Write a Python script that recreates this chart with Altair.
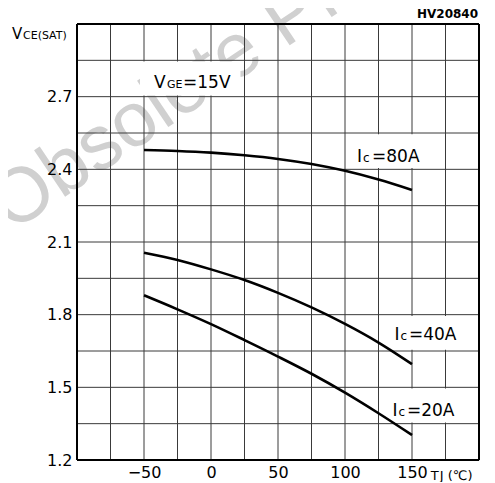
import altair as alt
import pandas as pd

# ---- data ----
T = [-50, -25, 0, 25, 50, 75, 100, 125, 150]
V80 = [2.480, 2.476, 2.469, 2.458, 2.443, 2.422, 2.394, 2.358, 2.315]
V40 = [2.056, 2.026, 1.987, 1.943, 1.890, 1.830, 1.762, 1.685, 1.596]
V20 = [1.880, 1.822, 1.761, 1.695, 1.627, 1.556, 1.478, 1.393, 1.303]
series = ["80A", "40A", "20A"]

x_ticks = [-50, 0, 50, 100, 150]
y_ticks = [1.2, 1.5, 1.8, 2.1, 2.4, 2.7]
x_grid = [-75, -50, -25, 0, 25, 50, 75, 100, 125, 150, 175]
y_grid = [1.35, 1.5, 1.65, 1.8, 1.95, 2.1, 2.25, 2.4, 2.55, 2.7, 2.85]
x_edges = [-100, 200]
y_edges = [1.2, 3.0]

FONT = "DejaVu Sans"

xs = alt.Scale(domain=[-100, 200], nice=False, zero=False)
ys = alt.Scale(domain=[1.2, 3.0], nice=False, zero=False)
x_axis = alt.Axis(values=x_ticks, title=None, grid=False, ticks=False, domain=False,
                  labelFontSize=16, labelFont=FONT, labelColor="black", labelPadding=4,
                  labelFlush=False, zindex=1)
y_axis = alt.Axis(values=y_ticks, format=".1f", title=None, grid=False, ticks=False,
                  domain=False, labelFontSize=16, labelFont=FONT, labelColor="black",
                  labelPadding=5, labelFlush=False, zindex=1)


def X(field):
    return alt.X(field, scale=xs, axis=x_axis)


def Y(field):
    return alt.Y(field, scale=ys, axis=y_axis)


curves = pd.DataFrame({
    "T": T * 3,
    "V": V80 + V40 + V20,
    "Ic": [series[0]] * len(T) + [series[1]] * len(T) + [series[2]] * len(T),
})

# watermark
wm = alt.Chart(pd.DataFrame({"T": [-149.0], "V": [2.137], "s": ["Obsolete Product(s)"]})).mark_text(
    align="left", baseline="alphabetic", angle=326, fontSize=77, font="Liberation Sans",
    color="#d0d0d0"
).encode(x=X("T:Q"), y=Y("V:Q"), text="s:N")

vgrid = alt.Chart(pd.DataFrame({"T": x_grid})).mark_rule(color="#3a3a3a", strokeWidth=1).encode(
    x=X("T:Q"))
hgrid = alt.Chart(pd.DataFrame({"V": y_grid})).mark_rule(color="#3a3a3a", strokeWidth=1).encode(
    y=Y("V:Q"))

boxes = pd.DataFrame({
    "T1": [-53, 105, 128, 128],
    "T2": [22, 172, 195, 195],
    "V1": [2.705, 2.405, 1.655, 1.355],
    "V2": [2.845, 2.545, 1.795, 1.495],
})
box = alt.Chart(boxes).mark_rect(color="white").encode(
    x=X("T1:Q"), x2="T2:Q", y=Y("V1:Q"), y2="V2:Q")

vborder = alt.Chart(pd.DataFrame({"T": x_edges})).mark_rule(color="black", strokeWidth=2).encode(
    x=X("T:Q"))
hborder = alt.Chart(pd.DataFrame({"V": y_edges})).mark_rule(color="black", strokeWidth=2).encode(
    y=Y("V:Q"))

lines = alt.Chart(curves).mark_line(color="black", strokeWidth=2.6, interpolate="monotone").encode(
    x=X("T:Q"), y=Y("V:Q"), detail="Ic:N")


def txt(t, v, s, size, dx=0, bold=False, align="left"):
    df = pd.DataFrame({"T": [t], "V": [v], "s": [s]})
    return alt.Chart(df).mark_text(
        align=align, baseline="alphabetic", dx=dx, fontSize=size, font=FONT,
        fontWeight="bold" if bold else "normal", color="black"
    ).encode(x=X("T:Q"), y=Y("V:Q"), text="s:N")


texts = [
    # Ic = 80A
    txt(109.0, 2.430, "I", 17), txt(109.0, 2.430, "c", 12, dx=6), txt(109.0, 2.430, "=80A", 17, dx=15),
    # Ic = 40A
    txt(136.9, 1.695, "I", 17), txt(136.9, 1.695, "c", 12, dx=6), txt(136.9, 1.695, "=40A", 17, dx=14.5),
    # Ic = 20A
    txt(135.4, 1.383, "I", 17), txt(135.4, 1.383, "c", 12, dx=6), txt(135.4, 1.383, "=20A", 17, dx=14.5),
    # VGE = 15V
    txt(-42.5, 2.737, "V", 17), txt(-42.5, 2.737, "GE", 11, dx=13), txt(-42.5, 2.737, "=15V", 17, dx=29),
    # VCE(SAT)
    txt(-148.5, 2.938, "V", 15), txt(-148.5, 2.938, "CE(SAT)", 11, dx=11),
    # TJ(°C)
    txt(164.0, 1.118, "T", 13), txt(164.0, 1.118, "J (℃)", 13, dx=9),
    # figure code
    txt(199.3, 3.023, "HV20840", 12, bold=True, align="right"),
]

chart = alt.layer(wm, vgrid, hgrid, box, lines, vborder, hborder, *texts).properties(
    width=402, height=436,
    autosize=alt.AutoSizeParams(type="none"),
    padding={"left": 69, "top": 16, "right": 8, "bottom": 22},
).configure_view(stroke=None).configure(background="white")

chart.save("out.html", embed_options={"renderer": "svg", "actions": False})
